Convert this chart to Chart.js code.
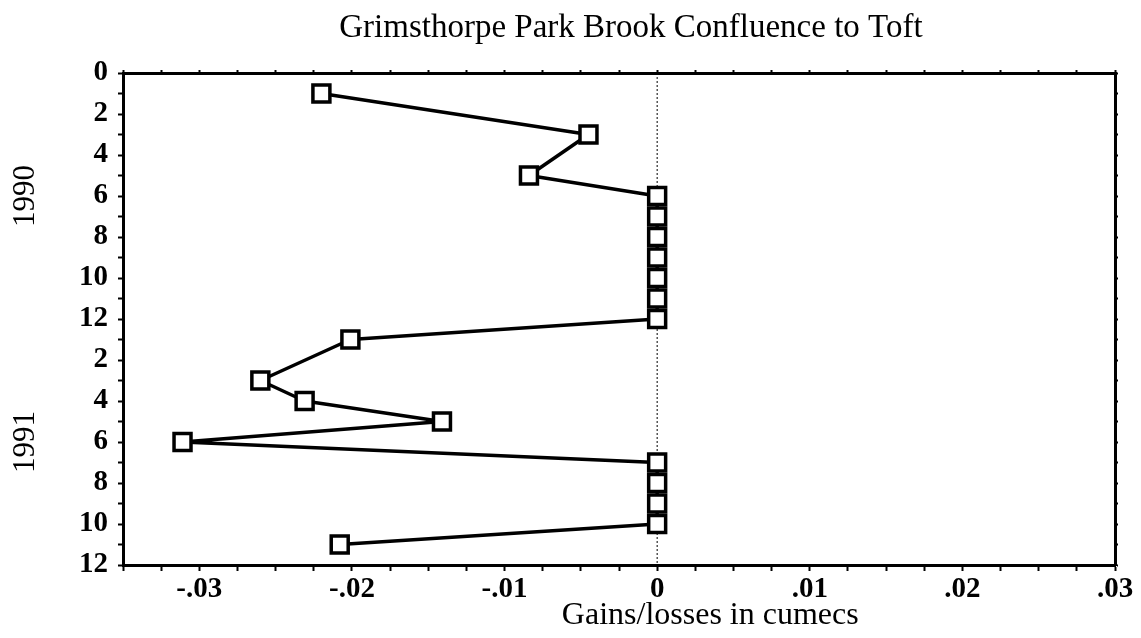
<!DOCTYPE html>
<html>
<head>
<meta charset="utf-8">
<script src="https://cdn.jsdelivr.net/npm/chart.js@4/dist/chart.umd.min.js"></script>
<style>
html,body{margin:0;padding:0;background:#fff;}
#wrap{width:1141px;height:638px;position:relative;}
</style>
</head>
<body>
<div id="wrap"><canvas id="c"></canvas></div>
<script>
// month index: 0 = start of 1990, 12 = end 1990 / start 1991, 24 = end 1991
const monthIndex = [1, 3, 5, 6, 7, 8, 9, 10, 11, 12, 13, 15, 16, 17, 18, 19, 20, 21, 22, 23];
const gains = [-0.022, -0.0045, -0.0084, 0, 0, 0, 0, 0, 0, 0, -0.0201, -0.026, -0.0231, -0.0141, -0.0311, 0, 0, 0, 0, -0.0208];
const monthTickLabels = ['0', '2', '4', '6', '8', '10', '12', '2', '4', '6', '8', '10', '12'];
const xTickValues = [-0.03, -0.02, -0.01, 0, 0.01, 0.02, 0.03];
const xTickLabels = ['-.03', '-.02', '-.01', '0', '.01', '.02', '.03'];
const yearLabels = ['1990', '1991'];
const yearCenters = [6, 18];
const zeroLine = [{x: 0, y: 0}, {x: 0, y: 24}];
const chartTitle = 'Grimsthorpe Park Brook Confluence to Toft';
const xAxisTitle = 'Gains/losses in cumecs';

const SERIF = '"Liberation Serif", "DejaVu Serif", serif';

const annotations = {
  id: 'annotations',
  afterDraw(chart) {
    const ctx = chart.ctx;
    const y = chart.scales.y;
    const area = chart.chartArea;
    const w = area.right - area.left;
    ctx.save();
    ctx.fillStyle = '#000';
    ctx.textAlign = 'center';
    ctx.textBaseline = 'middle';
    ctx.font = '33px ' + SERIF;
    ctx.fillText(chartTitle, area.left + 0.512 * w, 28);
    ctx.font = '31px ' + SERIF;
    yearLabels.forEach((t, i) => {
      ctx.save();
      ctx.translate(26, y.getPixelForValue(yearCenters[i]));
      ctx.rotate(-Math.PI / 2);
      ctx.fillText(t, 0, 0);
      ctx.restore();
    });
    ctx.font = '32px ' + SERIF;
    ctx.fillText(xAxisTitle, area.left + 0.592 * w, 616);
    ctx.restore();
  }
};

const tickFont = {family: SERIF, size: 29, weight: 'bold'};

new Chart(document.getElementById('c'), {
  type: 'scatter',
  data: {
    datasets: [
      {
        data: monthIndex.map((m, i) => ({x: gains[i], y: m})),
        showLine: true,
        borderColor: '#000',
        borderWidth: 3.5,
        borderJoinStyle: 'round',
        pointStyle: 'rect',
        pointRadius: 12,
        pointBorderWidth: 3.5,
        pointBackgroundColor: '#fff',
        pointBorderColor: '#000',
        tension: 0
      },
      {
        data: zeroLine,
        showLine: true,
        borderColor: '#000',
        borderWidth: 1,
        borderDash: [2, 2],
        pointRadius: 0
      }
    ]
  },
  options: {
    responsive: true,
    maintainAspectRatio: false,
    animation: false,
    layout: {padding: 0},
    plugins: {
      legend: {display: false},
      tooltip: {enabled: false},
      title: {display: false}
    },
    scales: {
      x: {
        type: 'linear',
        position: 'bottom',
        min: -0.035,
        max: 0.03,
        afterFit(s) { s.height = 73; },
        ticks: {
          stepSize: 0.0025,
          autoSkip: false,
          maxRotation: 0,
          color: '#000',
          font: tickFont,
          padding: 1,
          callback(v) {
            const i = xTickValues.findIndex(t => Math.abs(t - v) < 1e-7);
            return i >= 0 ? xTickLabels[i] : '';
          }
        },
        grid: {drawOnChartArea: false, tickLength: 6, tickColor: '#000', tickWidth: 2},
        border: {color: '#000', width: 3}
      },
      xTop: {
        type: 'linear',
        position: 'top',
        min: -0.035,
        max: 0.03,
        afterFit(s) { s.height = 73; },
        ticks: {display: false, stepSize: 0.0025, autoSkip: false},
        grid: {drawOnChartArea: false, tickLength: 3, tickColor: '#000', tickWidth: 2},
        border: {color: '#000', width: 3}
      },
      y: {
        type: 'linear',
        position: 'left',
        reverse: true,
        min: 0,
        max: 24,
        afterFit(s) { s.width = 123; },
        ticks: {
          stepSize: 1,
          autoSkip: false,
          color: '#000',
          font: tickFont,
          padding: 10,
          callback(v) {
            return (v % 2 === 0) ? monthTickLabels[v / 2] : '';
          }
        },
        grid: {drawOnChartArea: false, tickLength: 5, tickColor: '#000', tickWidth: 2},
        border: {color: '#000', width: 3}
      },
      yRight: {
        type: 'linear',
        position: 'right',
        reverse: true,
        min: 0,
        max: 24,
        afterFit(s) { s.width = 26; },
        ticks: {display: false, stepSize: 1, autoSkip: false},
        grid: {drawOnChartArea: false, tickLength: 3, tickColor: '#000', tickWidth: 2},
        border: {color: '#000', width: 3}
      }
    }
  },
  plugins: [annotations]
});
</script>
</body>
</html>
